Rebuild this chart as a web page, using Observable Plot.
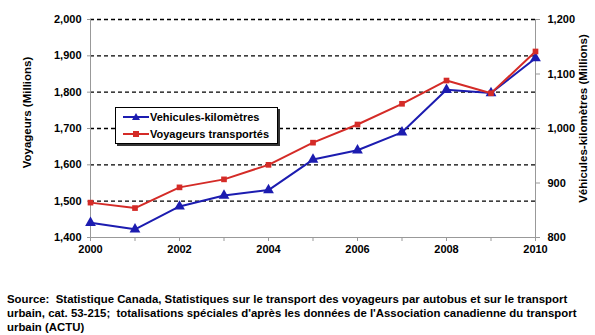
<!DOCTYPE html>
<html><head><meta charset="utf-8">
<script src="https://cdn.jsdelivr.net/npm/d3@7"></script>
<script src="https://cdn.jsdelivr.net/npm/@observablehq/plot@0.6"></script>
<style>
body{margin:0;background:#fff;font-family:"Liberation Sans",Arial,sans-serif;}
#wrap{position:relative;width:595px;height:335px;}
#legend{position:absolute;left:115px;top:107px;width:161px;height:35px;background:#fff;border:1px solid #000;box-shadow:2px 2px 0 #333;font-weight:bold;font-size:11px;}
#legend .row{display:flex;align-items:center;height:17px;padding-left:6px;}
#caption{position:absolute;left:7px;top:293px;font-weight:bold;font-size:11.4px;line-height:13.8px;white-space:pre;color:#000;}
</style></head>
<body><div id="wrap"><div id="chart"></div>
<div id="legend">
<div class="row"><svg width="28" height="10"><line x1="1" y1="5" x2="27" y2="5" stroke="#1c1cb0" stroke-width="2"/><path d="M14,1 L18,8 L10,8 Z" fill="#1c1cb0"/></svg><span>Vehicules-kilomètres</span></div>
<div class="row"><svg width="28" height="10"><line x1="1" y1="5" x2="27" y2="5" stroke="#d42b27" stroke-width="2"/><rect x="11" y="2" width="6" height="6" fill="#d42b27"/></svg><span>Voyageurs transportés</span></div>
</div>
<div id="caption"></div>
</div>
<script>
const years = [2000,2001,2002,2003,2004,2005,2006,2007,2008,2009,2010];
const voyageurs = [1496,1481,1538,1560,1600,1661,1711,1768,1832,1797,1912];
const vehKm = [827,815,857,877,887,943,960,993,1071,1065,1129];
const leftTicks = [1400,1500,1600,1700,1800,1900,2000];
const rightTicks = [800,900,1000,1100,1200];
const captionText = "Source:  Statistique Canada, Statistiques sur le transport des voyageurs par autobus et sur le transport\nurbain, cat. 53-215;  totalisations spéciales d'après les données de l'Association canadienne du transport\nurbain (ACTU)";

// map right-axis units onto left-axis scale
const toLeft = v => 1400 + (v - 800) * 600 / 400;
const fromLeft = y => 800 + (y - 1400) * 400 / 600;

const red = "#d42b27", blue = "#1c1cb0";
const dataV = years.map((x,i)=>({x, y: voyageurs[i]}));
const dataK = years.map((x,i)=>({x, y: toLeft(vehKm[i])}));
const fmt = d3.format(",");

const chart = Plot.plot({
  width: 595, height: 285,
  marginLeft: 90, marginRight: 60, marginTop: 19, marginBottom: 48,
  style: {fontFamily: '"Liberation Sans", Arial, sans-serif', fontSize: "11px", fontWeight: "bold", color: "#000"},
  x: {domain: [2000, 2010]},
  y: {domain: [1400, 2000]},
  marks: [
    Plot.ruleY(leftTicks.filter(d => d > 1400), {stroke: "#000", strokeWidth: 1.3, strokeDasharray: "4,3"}),
    Plot.ruleX([2000, 2010], {stroke: "#999", strokeWidth: 1}),
    Plot.ruleY([1400], {stroke: "#999", strokeWidth: 1}),
    Plot.axisY({anchor: "left", ticks: leftTicks, tickFormat: fmt, tickSize: 3, stroke: "#999", label: null, tickPadding: 6}),
    Plot.axisY({anchor: "right", ticks: rightTicks.map(toLeft), tickFormat: d => fmt(Math.round(fromLeft(d))), tickSize: 4, stroke: "#999", label: null, tickPadding: 8}),
    Plot.axisX({ticks: years, tickFormat: d => d % 2 === 0 ? String(d) : "", tickSize: 4, stroke: "#999", label: null, tickPadding: 4}),
    Plot.text(["Voyageurs (Millions)"], {frameAnchor: "left", dx: -63, dy: -16, rotate: -90, textAnchor: "middle", fontSize: 11.5, fontWeight: "bold"}),
    Plot.text(["Véhicules-kilomètres (Millions)"], {frameAnchor: "right", dx: 48, dy: -10, rotate: -90, textAnchor: "middle", fontSize: 11.5, fontWeight: "bold"}),
    Plot.line(dataK, {x: "x", y: "y", stroke: blue, strokeWidth: 2}),
    Plot.dot(dataK, {x: "x", y: "y", symbol: "triangle", r: 4, fill: blue}),
    Plot.line(dataV, {x: "x", y: "y", stroke: red, strokeWidth: 2}),
    Plot.dot(dataV, {x: "x", y: "y", symbol: "square", r: 3.2, fill: red})
  ]
});
document.getElementById("chart").appendChild(chart);
document.getElementById("caption").textContent = captionText;
</script>
</body></html>
